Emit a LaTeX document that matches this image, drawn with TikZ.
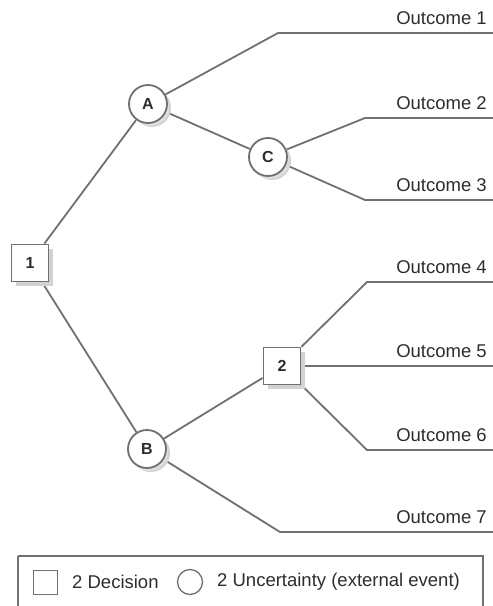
\documentclass[tikz,border=0pt]{standalone}
\usepackage{fontspec}
\setmainfont{Liberation Sans}
\usetikzlibrary{shadows,backgrounds}
\definecolor{linegray}{RGB}{112,112,112}
\definecolor{textgray}{RGB}{45,45,45}
\begin{document}
\begin{tikzpicture}[x=1pt, y=-1pt,
    branch/.style={draw=linegray, line width=1.8pt},
    decision/.style={draw=linegray, line width=1.8pt, fill=white, minimum size=37pt, inner sep=0pt,
        text=textgray, font=\fontsize{16}{18}\selectfont\bfseries,
        drop shadow={shadow xshift=4pt, shadow yshift=-4pt, fill=gray!35, opacity=1}},
    chance/.style={decision, circle, minimum size=38pt,
        drop shadow={shadow xshift=2pt, shadow yshift=-3pt, fill=gray!25, opacity=1}},
    outcome/.style={anchor=south east, inner sep=0pt, text=textgray,
        font=\fontsize{18.5}{20}\selectfont},
    keytext/.style={anchor=west, inner sep=0pt, text=textgray,
        font=\fontsize{18.5}{20}\selectfont}]
    \useasboundingbox (0,0) rectangle (493,606);
    \clip (0,0) rectangle (493,606);

    % nodes of the tree
    \node[decision] (n1) at (30,263) {1};
    \node[chance] (A) at (148,104) {A};
    \node[chance] (B) at (147,449) {B};
    \node[chance] (C) at (268,157) {C};
    \node[decision] (n2) at (282,366) {2};

    % bends and ends of the outcome lines
    \coordinate (b1) at (278,33);   \coordinate (e1) at (493,33);
    \coordinate (b2) at (365,118);  \coordinate (e2) at (493,118);
    \coordinate (b3) at (365,200);  \coordinate (e3) at (493,200);
    \coordinate (b4) at (367,282);  \coordinate (e4) at (493,282);
    \coordinate (e5) at (493,366);
    \coordinate (b6) at (367,450);  \coordinate (e6) at (493,450);
    \coordinate (b7) at (280,532);  \coordinate (e7) at (493,532);

    \begin{scope}[on background layer]
    \draw[branch] (n1) -- (A);
    \draw[branch] (n1) -- (B);
    \draw[branch] (A) -- (C);
    \draw[branch] (B) -- (n2);
    \draw[branch] (A) -- (b1) -- (e1);
    \draw[branch] (C) -- (b2) -- (e2);
    \draw[branch] (C) -- (b3) -- (e3);
    \draw[branch] (n2) -- (b4) -- (e4);
    \draw[branch] (n2) -- (e5);
    \draw[branch] (n2) -- (b6) -- (e6);
    \draw[branch] (B) -- (b7) -- (e7);
    \end{scope}

    \node[outcome] (t1) at (487,25) {Outcome 1};
    \node[outcome] (t2) at (487,110) {Outcome 2};
    \node[outcome] (t3) at (487,192) {Outcome 3};
    \node[outcome] (t4) at (487,274) {Outcome 4};
    \node[outcome] (t5) at (487,358) {Outcome 5};
    \node[outcome] (t6) at (487,442) {Outcome 6};
    \node[outcome] (t7) at (487,524) {Outcome 7};

    % key
    \draw[linegray, line width=1.3pt] (18,556) -- (18,660) (18,556) -- (483,556) -- (483,660);
    \node[draw=linegray, line width=1.3pt, minimum size=24pt, inner sep=0pt] (keyD) at (45.5,582.5) {};
    \node[keytext] (keyDt) at (72,582) {2 Decision};
    \node[draw=linegray, line width=1.3pt, circle, minimum size=25pt, inner sep=0pt] (keyU) at (190,582) {};
    \node[keytext] (keyUt) at (217,582) {2 Uncertainty (external event)};
\end{tikzpicture}
\end{document}
